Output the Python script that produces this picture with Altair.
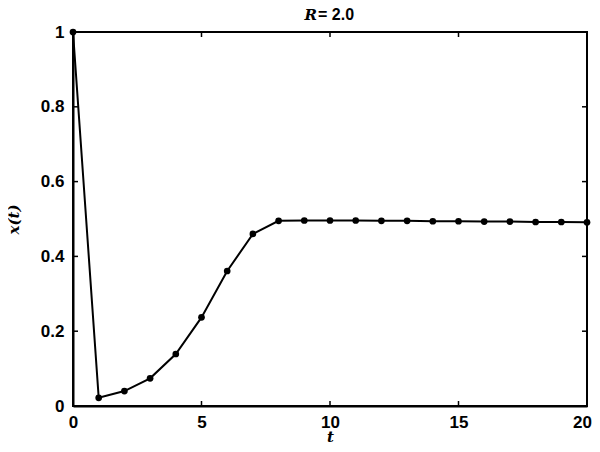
import altair as alt
import pandas as pd

t_vals = list(range(0, 21))
x_vals = [1.0, 0.022, 0.040, 0.074, 0.139, 0.237, 0.361, 0.460, 0.495, 0.496,
          0.496, 0.496, 0.495, 0.495, 0.494, 0.494, 0.493, 0.493, 0.492, 0.492, 0.491]
x_ticks = [5, 10, 15]
y_ticks = [0.2, 0.4, 0.6, 0.8]
x_edges = [0, 20]
y_edges = [0, 1]
title_var = ["R"]
title_rest = ["= 2.0"]

df = pd.DataFrame({"t": t_vals, "x": x_vals})
xt = pd.DataFrame({"v": x_ticks})
yt = pd.DataFrame({"v": y_ticks})
xe = pd.DataFrame({"v": x_edges})
ye = pd.DataFrame({"v": y_edges})

W, H = 514, 374

xscale = alt.Scale(domain=[0, 20], nice=False, zero=False)
yscale = alt.Scale(domain=[0, 1], nice=False)

lab_font = "Liberation Sans"

x_enc = alt.X("t:Q", scale=xscale, axis=alt.Axis(
    values=[0, 5, 10, 15, 20], title="t", grid=False, ticks=False,
    domain=True, domainColor="black", domainWidth=2,
    labelFont=lab_font, labelFontSize=17, labelFontWeight="bold", labelColor="black",
    labelPadding=8, labelFlush=False,
    labelOffset=alt.condition("datum.value == 20", alt.value(-5), alt.value(0)),
    titleFont="DejaVu Serif", titleFontStyle="italic", titleFontWeight="bold",
    titleFontSize=15, titleColor="black", titleBaseline="alphabetic", titleY=35))
y_enc = alt.Y("x:Q", scale=yscale, axis=alt.Axis(
    values=[0, 0.2, 0.4, 0.6, 0.8, 1.0], format="~g", title="x(t)", grid=False,
    ticks=False, domain=True, domainColor="black", domainWidth=2,
    labelFont=lab_font, labelFontSize=17, labelFontWeight="bold", labelColor="black",
    labelPadding=9, labelFlush=False,
    titleFont="DejaVu Serif", titleFontStyle="italic", titleFontWeight="bold",
    titleFontSize=15, titleColor="black", titleBaseline="alphabetic", titleX=-55))

line = alt.Chart(df).mark_line(color="black", strokeWidth=2).encode(x=x_enc, y=y_enc)
pts = alt.Chart(df).mark_circle(color="black", size=45, opacity=1).encode(
    x=alt.X("t:Q", scale=xscale), y=alt.Y("x:Q", scale=yscale))

frame_h = alt.Chart(ye).mark_rule(color="black", strokeWidth=2, opacity=1).encode(
    y=alt.Y("v:Q", scale=yscale), x=alt.value(-1), x2=alt.value(W + 1))
frame_v = alt.Chart(xe).mark_rule(color="black", strokeWidth=2, opacity=1).encode(
    x=alt.X("v:Q", scale=xscale), y=alt.value(-1), y2=alt.value(H + 1))

xb = alt.Chart(xt).mark_rule(color="black", strokeWidth=1.5).encode(
    x=alt.X("v:Q", scale=xscale), y=alt.value(H), y2=alt.value(H - 5))
xtop = alt.Chart(xt).mark_rule(color="black", strokeWidth=1.5).encode(
    x=alt.X("v:Q", scale=xscale), y=alt.value(0), y2=alt.value(5))
yl = alt.Chart(yt).mark_rule(color="black", strokeWidth=1.5).encode(
    y=alt.Y("v:Q", scale=yscale), x=alt.value(0), x2=alt.value(5))
yr = alt.Chart(yt).mark_rule(color="black", strokeWidth=1.5).encode(
    y=alt.Y("v:Q", scale=yscale), x=alt.value(W), x2=alt.value(W - 5))

t1 = alt.Chart(pd.DataFrame({"s": title_var})).mark_text(
    font="DejaVu Serif", fontStyle="italic", fontWeight="bold", fontSize=15,
    align="right", baseline="alphabetic", color="black").encode(
    text="s:N", x=alt.value(244), y=alt.value(-12))
t2 = alt.Chart(pd.DataFrame({"s": title_rest})).mark_text(
    font=lab_font, fontWeight="bold", fontSize=16,
    align="left", baseline="alphabetic", color="black").encode(
    text="s:N", x=alt.value(245), y=alt.value(-12))

chart = alt.layer(line, pts, frame_h, frame_v, xb, xtop, yl, yr, t1, t2).properties(
    width=W, height=H,
    background="white",
    autosize=alt.AutoSizeParams(type="none"),
    padding={"left": 65, "top": 24, "right": 5, "bottom": 38},
).configure_view(stroke="black", strokeWidth=2)

chart.save("out.html", embed_options={"renderer": "svg", "actions": False})
